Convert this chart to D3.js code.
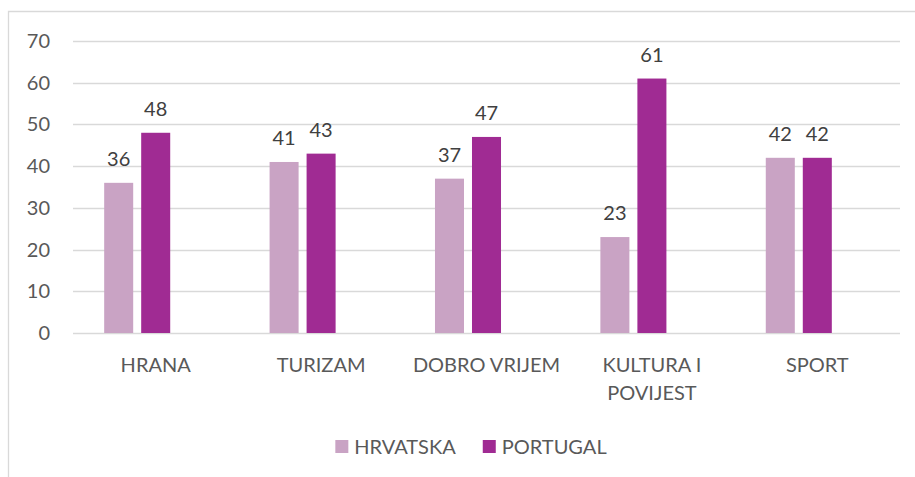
<!DOCTYPE html>
<html>
<head>
<meta charset="utf-8">
<script src="https://cdn.jsdelivr.net/npm/d3@7"></script>
<style>
    body { margin: 0; background: #fff; }
    text { font-family: "Lato", "Liberation Sans", Arial, sans-serif; }
</style>
</head>
<body>
<div id="chart"></div>
<script>
const categories = [["HRANA"], ["TURIZAM"], ["DOBRO VRIJEM"], ["KULTURA I", "POVIJEST"], ["SPORT"]];
const seriesNames = ["HRVATSKA", "PORTUGAL"];
const hrvatska = [36, 41, 37, 23, 42];
const portugal = [48, 43, 47, 61, 42];
const yTicks = [0, 10, 20, 30, 40, 50, 60, 70];
const colors = ["#C9A3C4", "#A02B93"];

const width = 915;
const height = 477;
const plot = {left: 73, right: 900, top: 41, bottom: 333};
const fontSize = "20px";

const svg = d3.select("#chart")
              .append("svg")
              .attr("width", width)
              .attr("height", height);

// chart border (only top and left visible in the crop)
svg.append("path")
   .attr("d", "M8.5," + height + "V11.5H" + width)
   .attr("fill", "none")
   .attr("stroke", "#D9D9D9")
   .attr("stroke-width", 1.3);

const keys = categories.map(function (c) { return c.join(" "); });

const x0 = d3.scaleBand()
             .domain(keys)
             .range([plot.left, plot.right])
             .paddingInner(0.377)
             .paddingOuter(0.1885);

// three slots per group, the third one stays empty like in the original
const x1 = d3.scaleBand()
             .domain([0, 1, 2])
             .range([0, x0.bandwidth()])
             .paddingInner(0.216);

const y = d3.scaleLinear()
            .domain([0, 70])
            .range([plot.bottom, plot.top]);

// gridlines
svg.append("g")
   .selectAll("line")
   .data(yTicks)
   .enter()
   .append("line")
   .attr("x1", plot.left)
   .attr("x2", plot.right)
   .attr("y1", function (d) { return Math.round(y(d)) + 0.5; })
   .attr("y2", function (d) { return Math.round(y(d)) + 0.5; })
   .attr("stroke", "#D9D9D9")
   .attr("stroke-width", 1.5);

// y axis labels
svg.append("g")
   .selectAll("text")
   .data(yTicks)
   .enter()
   .append("text")
   .attr("x", 50)
   .attr("y", function (d) { return y(d) + 7; })
   .attr("text-anchor", "end")
   .style("font-size", fontSize)
   .attr("fill", "#595959")
   .text(function (d) { return d; });

const series = [hrvatska, portugal];

series.forEach(function (values, si) {
    const g = svg.append("g");
    g.selectAll("rect")
     .data(values)
     .enter()
     .append("rect")
     .attr("x", function (d, i) { return x0(keys[i]) + x1(si); })
     .attr("y", function (d) { return y(d); })
     .attr("width", x1.bandwidth())
     .attr("height", function (d) { return y(0) - y(d); })
     .attr("fill", colors[si]);

    g.selectAll("text")
     .data(values)
     .enter()
     .append("text")
     .attr("x", function (d, i) { return x0(keys[i]) + x1(si) + x1.bandwidth() / 2; })
     .attr("y", function (d) { return y(d) - 17; })
     .attr("text-anchor", "middle")
     .style("font-size", fontSize)
     .attr("fill", "#404040")
     .text(function (d) { return d; });
});

// category labels
const catG = svg.append("g");
categories.forEach(function (lines, i) {
    const t = catG.append("text")
                  .attr("text-anchor", "middle")
                  .style("font-size", fontSize)
                  .attr("fill", "#595959");
    lines.forEach(function (line, li) {
        t.append("tspan")
         .attr("x", x0(keys[i]) + x0.bandwidth() / 2)
         .attr("y", 372 + li * 28)
         .text(line);
    });
});

// legend
const legend = svg.append("g");
let lx = 0;
seriesNames.forEach(function (name, i) {
    const item = legend.append("g").attr("transform", "translate(" + lx + ",0)");
    item.append("rect")
        .attr("x", 0)
        .attr("y", 440)
        .attr("width", 13)
        .attr("height", 13)
        .attr("fill", colors[i]);
    const t = item.append("text")
                  .attr("x", 19)
                  .attr("y", 454)
                  .style("font-size", fontSize)
                  .attr("fill", "#595959")
                  .text(name);
    lx += 19 + t.node().getComputedTextLength() + 27;
});
const legendWidth = lx - 27;
legend.attr("transform", "translate(" + (471 - legendWidth / 2) + ",0)");
</script>
</body>
</html>
